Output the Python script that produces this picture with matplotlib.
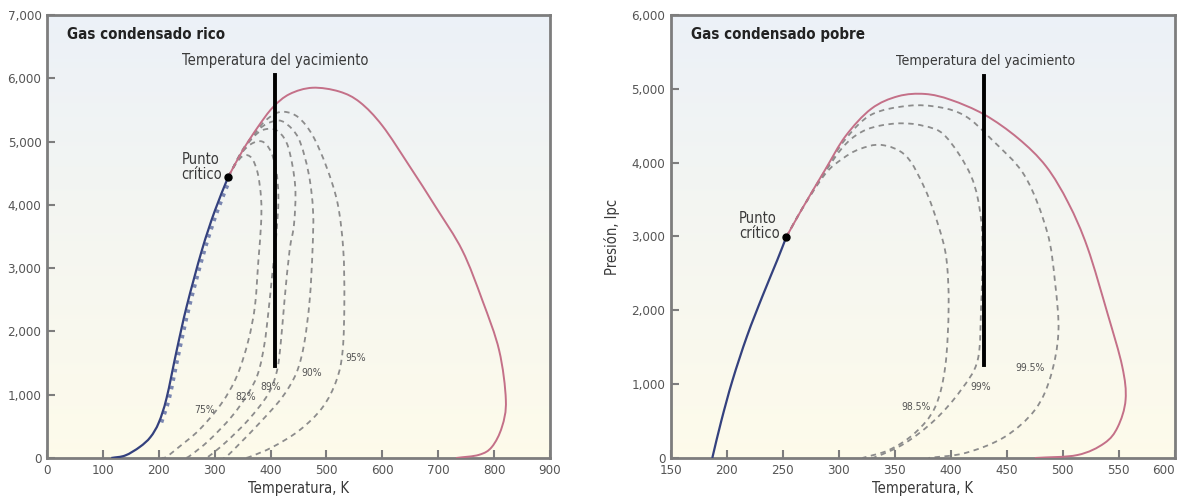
import numpy as np
import matplotlib
matplotlib.use("Agg")
import matplotlib.pyplot as plt
from matplotlib.ticker import FuncFormatter
from matplotlib.path import Path
from matplotlib.patches import PathPatch

plt.rcParams['font.family'] = ['DejaVu Sans']
plt.rcParams['font.stretch'] = 'condensed'

# ---------------- Gas condensado rico (left) ----------------
rico_crit = (324, 4437)
rico_bubble_t = [115, 140, 166, 185, 200, 214, 232, 250, 277, 300, 324]
rico_bubble_p = [0, 40, 175, 330, 560, 950, 1700, 2400, 3280, 3900, 4437]
rico_dew_t = [324, 350, 377, 404, 434, 475, 523, 560, 600, 648, 696, 743, 779, 809, 821, 814, 796, 773, 732]
rico_dew_p = [4437, 4858, 5226, 5540, 5750, 5850, 5790, 5620, 5250, 4620, 3960, 3280, 2490, 1700, 915, 490, 175, 50, 0]

rico_q_labels = ['75%', '82%', '89%', '90%', '95%']
rico_q_t = [
    [324, 338, 352, 366, 377, 383, 383, 378, 372, 360, 340, 312, 273, 237, 214, 205],
    [324, 345, 365, 385, 400, 410, 414, 410, 403, 396, 389, 378, 360, 330, 290, 255, 245],
    [324, 350, 375, 395, 415, 432, 444, 442, 434, 425, 418, 411, 395, 360, 320, 290, 282],
    [324, 352, 380, 405, 425, 450, 468, 476, 475, 470, 460, 446, 420, 380, 345, 321, 315],
    [324, 355, 380, 404, 425, 450, 475, 500, 520, 530, 532, 529, 518, 493, 452, 404, 362, 350],
]
rico_q_p = [
    [4437, 4650, 4780, 4740, 4500, 4100, 3700, 3100, 2400, 1850, 1300, 860, 450, 180, 20, 0],
    [4437, 4780, 4960, 5000, 4850, 4550, 4100, 3500, 2900, 2300, 1800, 1350, 1020, 650, 280, 30, 0],
    [4437, 4858, 5120, 5200, 5150, 4900, 4300, 3700, 3280, 2500, 1800, 1360, 1000, 600, 250, 30, 0],
    [4437, 4900, 5200, 5320, 5300, 5050, 4500, 3900, 3280, 2500, 1800, 1340, 950, 550, 230, 20, 0],
    [4437, 4920, 5230, 5420, 5470, 5380, 5100, 4600, 4020, 3300, 2490, 1700, 1230, 800, 440, 175, 16, 0],
]
rico_q_label_t = [282, 355, 400, 473, 553]
rico_q_label_p = [757, 960, 1120, 1340, 1580]
rico_res_t = 408
rico_res_p = (1450, 6050)

# ---------------- Gas condensado pobre (right) ----------------
pobre_crit = (253, 2990)
pobre_bubble_t = [187, 195, 205, 218, 232, 245, 253]
pobre_bubble_p = [0, 500, 1050, 1650, 2200, 2680, 2990]
pobre_dew_t = [253, 267, 288, 306, 329, 353, 377, 400, 430, 460, 485, 505, 522, 540, 553, 556, 549, 537, 513, 475]
pobre_dew_p = [2990, 3370, 3910, 4360, 4730, 4900, 4930, 4850, 4650, 4330, 3950, 3450, 2850, 1950, 1240, 790, 420, 200, 40, 0]

pobre_q_labels = ['98.5%', '99%', '99.5%']
pobre_q_t = [
    [253, 267, 288, 303, 318, 338, 360, 377, 389, 396, 398, 395, 386, 368, 345, 321],
    [253, 267, 288, 306, 325, 351, 375, 395, 418, 427, 428, 427, 424, 409, 386, 359, 333, 325],
    [253, 267, 288, 306, 329, 362, 390, 413, 436, 466, 486, 493, 496, 489, 475, 448, 413, 380],
]
pobre_q_p = [
    [2990, 3370, 3850, 4050, 4180, 4240, 4090, 3640, 3140, 2700, 2050, 1240, 690, 340, 110, 0],
    [2990, 3370, 3880, 4250, 4450, 4530, 4500, 4360, 3820, 3230, 2600, 2050, 1330, 920, 520, 200, 15, 0],
    [2990, 3370, 3900, 4320, 4650, 4770, 4750, 4630, 4320, 3820, 3060, 2380, 1700, 1100, 650, 285, 68, 0],
]
pobre_q_label_t = [369, 427, 471]
pobre_q_label_p = [690, 965, 1220]
pobre_res_t = 430
pobre_res_p = (1265, 5180)

fig = plt.figure(figsize=(11.79, 5.04), dpi=100)
fig.patch.set_facecolor('white')

dew_color = '#c47088'
bub_color = '#34417e'
dash_color = '#8c8c8c'
spine_color = '#7d7d7d'
text_color = '#3a3a3a'


def smooth(ax, t, p, **kw):
    # catmull-rom through the read points, drawn as bezier path
    pts = np.column_stack([t, p]).astype(float)
    n = len(pts)
    tang = np.zeros_like(pts)
    tang[1:-1] = (pts[2:] - pts[:-2]) / 2
    tang[0] = pts[1] - pts[0]
    tang[-1] = pts[-1] - pts[-2]
    verts = [pts[0]]
    codes = [Path.MOVETO]
    for i in range(n - 1):
        verts += [pts[i] + tang[i] / 3, pts[i + 1] - tang[i + 1] / 3, pts[i + 1]]
        codes += [Path.CURVE4] * 3
    ax.add_patch(PathPatch(Path(verts, codes), fill=False, **kw))


def background(ax):
    grad = np.linspace(0, 1, 256).reshape(-1, 1)
    top = np.array([0.925, 0.945, 0.97])
    bot = np.array([0.995, 0.985, 0.92])
    img = top + (bot - top) * grad[:, :, None] * np.ones((1, 1, 3))
    ax.imshow(img, extent=[0, 1, 0, 1], transform=ax.transAxes, aspect='auto', zorder=0)


def setup(ax, xlim, ylim, xticks, yticks):
    ax.set_xlim(*xlim)
    ax.set_ylim(*ylim)
    ax.set_xticks(xticks)
    ax.set_yticks(yticks)
    ax.yaxis.set_major_formatter(FuncFormatter(lambda v, p: f'{int(v):,}'))
    ax.tick_params(direction='in', length=6, width=1.5, color=spine_color,
                   labelsize=9.5, labelcolor='#555555', pad=4)
    for s in ax.spines.values():
        s.set_color(spine_color)
        s.set_linewidth(2)
    ax.set_xlabel('Temperatura, K', fontsize=10.5, color=text_color, labelpad=3)


def draw(ax, crit, bt, bp, dt, dp, qt, qp, qlabels, lt, lp, res_t, res_p, title, hatch=None):
    background(ax)
    for t, p in zip(qt, qp):
        smooth(ax, t, p, edgecolor=dash_color, lw=1.3, ls=(0, (3, 2.5)), zorder=2)
    if hatch is not None:
        smooth(ax, hatch[0], hatch[1], edgecolor='#7a86b0', lw=2.5, ls=(0, (1, 1.5)), zorder=2)
    smooth(ax, bt, bp, edgecolor=bub_color, lw=1.6, zorder=3)
    smooth(ax, dt, dp, edgecolor=dew_color, lw=1.4, zorder=3)
    ax.plot([res_t, res_t], res_p, color='black', lw=2.8, zorder=4)
    ax.plot(*crit, 'o', color='black', ms=5, zorder=5)
    for s, x, y in zip(qlabels, lt, lp):
        ax.text(x, y, s, fontsize=7.5, color='#555555', ha='center', va='center', zorder=5)
    ax.text(0.04, 0.955, title, transform=ax.transAxes, fontsize=10.8, fontweight='bold',
            color='#222222', ha='left', va='center')


ax1 = fig.add_axes([0.0399, 0.0913, 0.4266, 0.879])
setup(ax1, (0, 900), (0, 7000), range(0, 901, 100), range(0, 7001, 1000))
hatch_t = [t + 5 for t in rico_bubble_t[4:]]
hatch_p = rico_bubble_p[4:]
draw(ax1, rico_crit, rico_bubble_t, rico_bubble_p, rico_dew_t, rico_dew_p,
     rico_q_t, rico_q_p, rico_q_labels, rico_q_label_t, rico_q_label_p,
     rico_res_t, rico_res_p, 'Gas condensado rico', hatch=(hatch_t, hatch_p))
ax1.text(rico_res_t, 6280, 'Temperatura del yacimiento', fontsize=10.5, color=text_color,
         ha='center', va='center')
ax1.text(241, 4590, 'Punto\ncrítico', fontsize=10.5, color=text_color, ha='left', va='center',
         linespacing=1.0)

ax2 = fig.add_axes([0.569, 0.0913, 0.4275, 0.879])
setup(ax2, (150, 600), (0, 6000), range(150, 601, 50), range(0, 6001, 1000))
draw(ax2, pobre_crit, pobre_bubble_t, pobre_bubble_p, pobre_dew_t, pobre_dew_p,
     pobre_q_t, pobre_q_p, pobre_q_labels, pobre_q_label_t, pobre_q_label_p,
     pobre_res_t, pobre_res_p, 'Gas condensado pobre')
ax2.text(pobre_res_t + 1, 5380, 'Temperatura del yacimiento', fontsize=10.2, color=text_color,
         ha='center', va='center')
ax2.text(211, 3140, 'Punto\ncrítico', fontsize=10.5, color=text_color, ha='left', va='center',
         linespacing=1.0)
ax2.set_ylabel('Presión, lpc', fontsize=10.5, color=text_color, labelpad=8)
ax2.get_xticklabels()[-1].set_horizontalalignment('right')

fig.savefig('out.png', dpi=100)
